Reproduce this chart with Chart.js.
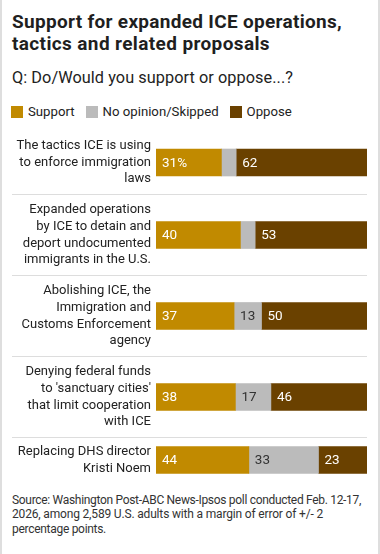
<!DOCTYPE html>
<html>
<head>
<meta charset="utf-8">
<script src="https://cdn.jsdelivr.net/npm/chart.js@4.4.1/dist/chart.umd.min.js"></script>
<style>
html,body{margin:0;padding:0;background:#fff;}
#wrap{position:relative;width:376px;height:554px;border-left:2px solid #dedede;border-right:2px solid #dedede;font-family:Roboto,'Liberation Sans',sans-serif;color:#222;overflow:hidden;}
.fit{display:block;white-space:nowrap;}
.fit span{display:inline-block;}
h1{margin:0;position:absolute;left:10px;top:11px;font-size:19px;line-height:22px;font-weight:700;color:#1f1f1f;}
.sub{position:absolute;left:10px;top:68px;font-size:16.3px;line-height:20px;color:#222;}
.legend{position:absolute;left:9px;top:104px;font-size:13.2px;line-height:16px;display:flex;align-items:center;color:#222;white-space:nowrap;}
.legend .sw{display:inline-block;width:12px;height:12px;margin-right:5px;}
.legend .item{display:flex;align-items:center;margin-right:11px;}
#rows{position:absolute;left:10px;top:131px;width:355px;}
.row{position:relative;border-bottom:1px solid #dddddd;}
.row:last-child{border-bottom:none;}
.row canvas{display:block;}
.src{position:absolute;left:10px;top:493px;font-size:12px;line-height:14.3px;color:#333;}
</style>
</head>
<body>
<div id="wrap">
  <h1><span class="fit"><span data-w="330">Support for expanded ICE operations,</span></span><span class="fit"><span data-w="258">tactics and related proposals</span></span></h1>
  <div class="sub"><span class="fit"><span data-w="281">Q: Do/Would you support or oppose...?</span></span></div>
  <div class="legend" id="legend"></div>
  <div id="rows"></div>
  <div class="src"><span class="fit"><span data-w="349">Source: Washington Post-ABC News-Ipsos poll conducted Feb. 12-17,</span></span><span class="fit"><span data-w="311">2026, among 2,589 U.S. adults with a margin of error of +/- 2</span></span><span class="fit"><span data-w="94">percentage points.</span></span></div>
</div>
<script>
// ---- data ----
const categories = [
  ["The tactics ICE is using", "to enforce immigration", "laws"],
  ["Expanded operations", "by ICE to detain and", "deport undocumented", "immigrants in the U.S."],
  ["Abolishing ICE, the", "Immigration and", "Customs Enforcement", "agency"],
  ["Denying federal funds", "to 'sanctuary cities'", "that limit cooperation", "with ICE"],
  ["Replacing DHS director", "Kristi Noem"]
];
const seriesNames = ["Support", "No opinion/Skipped", "Oppose"];
const support   = [31, 40, 37, 38, 44];
const noOpinion = [7, 7, 13, 17, 33];
const oppose    = [62, 53, 50, 46, 23];

// ---- styles ----
const colors = ["#c18a00", "#bbbbbb", "#6a4100"];
const textColors = ["#ffffff", "#333333", "#ffffff"];
const FONT = "Roboto, 'Liberation Sans', sans-serif";
const rowHeightByLines = {2: 44, 3: 63, 4: 80};

// fit text lines to the reference widths with letter-spacing
document.querySelectorAll('.fit span[data-w]').forEach(s => {
  const target = parseFloat(s.dataset.w);
  const w0 = s.getBoundingClientRect().width;
  const n = s.textContent.length;
  s.style.letterSpacing = ((target - w0) / n).toFixed(3) + 'px';
});

// legend
const legendEl = document.getElementById('legend');
seriesNames.forEach((n, i) => {
  const it = document.createElement('span');
  it.className = 'item';
  it.innerHTML = '<span class="sw" style="background:' + colors[i] + '"></span>' + n;
  legendEl.appendChild(it);
});

const valueLabels = {
  id: 'valueLabels',
  afterDatasetsDraw(chart) {
    const ctx = chart.ctx;
    const rowIdx = chart.options.plugins.valueLabels.row;
    chart.data.datasets.forEach((ds, di) => {
      const meta = chart.getDatasetMeta(di);
      meta.data.forEach((el, i) => {
        const v = ds.data[i];
        const w = Math.abs(el.x - el.base);
        if (w < 22) return;
        const txt = (rowIdx === 0 && di === 0) ? v + '%' : String(v);
        ctx.save();
        ctx.font = '13.5px ' + FONT;
        ctx.fillStyle = textColors[di];
        ctx.textAlign = 'left';
        ctx.textBaseline = 'middle';
        ctx.fillText(txt, Math.min(el.x, el.base) + 6, el.y + 1);
        ctx.restore();
      });
    });
  }
};

const rowsEl = document.getElementById('rows');
categories.forEach((cat, r) => {
  const h = rowHeightByLines[cat.length];
  const div = document.createElement('div');
  div.className = 'row';
  div.style.height = h + 'px';
  const cv = document.createElement('canvas');
  cv.width = 355; cv.height = h;
  cv.style.width = '355px'; cv.style.height = h + 'px';
  div.appendChild(cv);
  rowsEl.appendChild(div);
  const vals = [support[r], noOpinion[r], oppose[r]];
  const total = vals.reduce((a, b) => a + b, 0);
  new Chart(cv, {
    type: 'bar',
    data: {
      labels: [cat],
      datasets: vals.map((v, i) => ({
        label: seriesNames[i],
        data: [v],
        backgroundColor: colors[i],
        borderWidth: 0,
        barThickness: 27
      }))
    },
    options: {
      indexAxis: 'y',
      responsive: false,
      maintainAspectRatio: false,
      animation: false,
      devicePixelRatio: 1,
      layout: { padding: 0 },
      scales: {
        x: { stacked: true, display: false, min: 0, max: total },
        y: {
          stacked: true,
          grid: { display: false, drawTicks: false, tickLength: 0 },
          border: { display: false },
          ticks: { color: '#222', font: { family: FONT, size: 13, lineHeight: 1.27 }, padding: 5 },
          afterFit(s) { s.width = 144; s.paddingTop = 0; s.paddingBottom = 0; }
        }
      },
      plugins: {
        legend: { display: false },
        tooltip: { enabled: false },
        valueLabels: { row: r }
      }
    },
    plugins: [valueLabels]
  });
});
</script>
</body>
</html>
